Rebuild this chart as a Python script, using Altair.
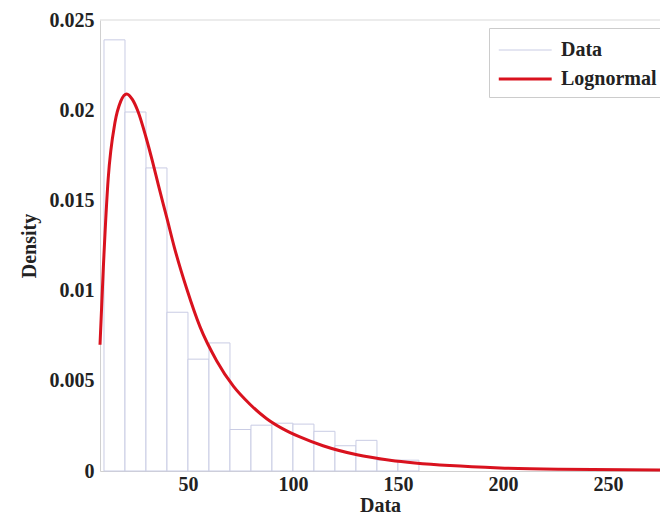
import altair as alt
import pandas as pd

# Histogram bins (density)
bin_start = [10, 20, 30, 40, 50, 60, 70, 80, 90, 100, 110, 120, 130, 140, 150]
bin_end = [20, 30, 40, 50, 60, 70, 80, 90, 100, 110, 120, 130, 140, 150, 160]
bin_density = [0.0239, 0.0199, 0.0168, 0.0088, 0.0062, 0.0071, 0.0023, 0.00254,
               0.00265, 0.0026, 0.0022, 0.0014, 0.0017, 0.0006, 0.0006]

# Fitted lognormal curve
curve_x = [8.1, 9.7, 12.0, 15.2, 18.0, 20.8, 23.5, 26.3, 30.0, 33.0, 36.0, 40.0,
           43.5, 49.4, 55.7, 63.7, 71.6, 79.5, 87.5, 95.0, 103.0, 114.3, 130.5,
           146.2, 174.8, 198.6, 227.0, 274.8]
curve_y = [0.0070, 0.0113, 0.0162, 0.0193, 0.0205, 0.0209, 0.0206, 0.0199, 0.0185,
           0.0172, 0.0158, 0.0140, 0.0124, 0.0101, 0.0080, 0.0061, 0.0047, 0.0037,
           0.0029, 0.00235, 0.0019, 0.0014, 0.0009, 0.0006, 0.0003, 0.00017,
           0.0001, 0.00006]

series_names = ["Data", "Lognormal"]
series_colors = ["#c9cce4", "#d9121e"]
y_top = [0.025]

bars = pd.DataFrame({"x": bin_start, "x2": bin_end, "y": bin_density, "series": "Data"})
curve = pd.DataFrame({"x": curve_x, "y": curve_y, "series": "Lognormal"})

FONT = "Liberation Serif"

xscale = alt.Scale(domain=[8.1, 274.8], nice=False, zero=False)
yscale = alt.Scale(domain=[0, 0.025], nice=False)
stroke_scale = alt.Scale(domain=series_names, range=series_colors)
width_scale = alt.Scale(domain=series_names, range=[1, 3])

legend = alt.Legend(
    title=None, orient="none", legendX=389, legendY=8,
    symbolType="M-1,0H3", symbolSize=700,
    labelFont=FONT, labelFontSize=20, labelFontWeight="bold", labelColor="#222",
    strokeColor="#cccccc", fillColor="white", padding=8, rowPadding=4,
    labelOffset=34,
)

hist = alt.Chart(bars).mark_rect(fill="white").encode(
    x=alt.X("x:Q", scale=xscale, title="Data",
            axis=alt.Axis(values=[50, 100, 150, 200, 250])),
    x2="x2:Q",
    y=alt.Y("y:Q", scale=yscale, title="Density",
            axis=alt.Axis(values=[0, 0.005, 0.01, 0.015, 0.02, 0.025], format="~g")),
    y2=alt.datum(0),
    stroke=alt.Stroke("series:N", scale=stroke_scale, legend=legend),
    strokeWidth=alt.StrokeWidth("series:N", scale=width_scale, legend=legend),
)

line = alt.Chart(curve).mark_line(interpolate="monotone").encode(
    x=alt.X("x:Q", scale=xscale),
    y=alt.Y("y:Q", scale=yscale),
    stroke=alt.Stroke("series:N", scale=stroke_scale, legend=legend),
    strokeWidth=alt.StrokeWidth("series:N", scale=width_scale, legend=legend),
)

top_border = alt.Chart(pd.DataFrame({"y": y_top})).mark_rule(
    color="#d9d9d9", strokeWidth=1
).encode(y=alt.Y("y:Q", scale=yscale))

chart = (hist + line + top_border).properties(
    width=560, height=451,
    autosize=alt.AutoSizeParams(type="none"),
    padding={"left": 92, "top": 12, "right": 0, "bottom": 43},
).configure_view(
    stroke=None
).configure_axis(
    labelFont=FONT, labelFontSize=20, labelFontWeight="bold", labelColor="#222",
    titleFont=FONT, titleFontSize=20, titleFontWeight="bold", titleColor="#222",
    domainColor="#d0d0d0", ticks=False, grid=False, labelPadding=3,
).configure_axisY(
    titlePadding=10, labelPadding=6,
).configure_axisX(
    titlePadding=1,
)

chart.save("out.html", embed_options={"renderer": "svg", "actions": False})
